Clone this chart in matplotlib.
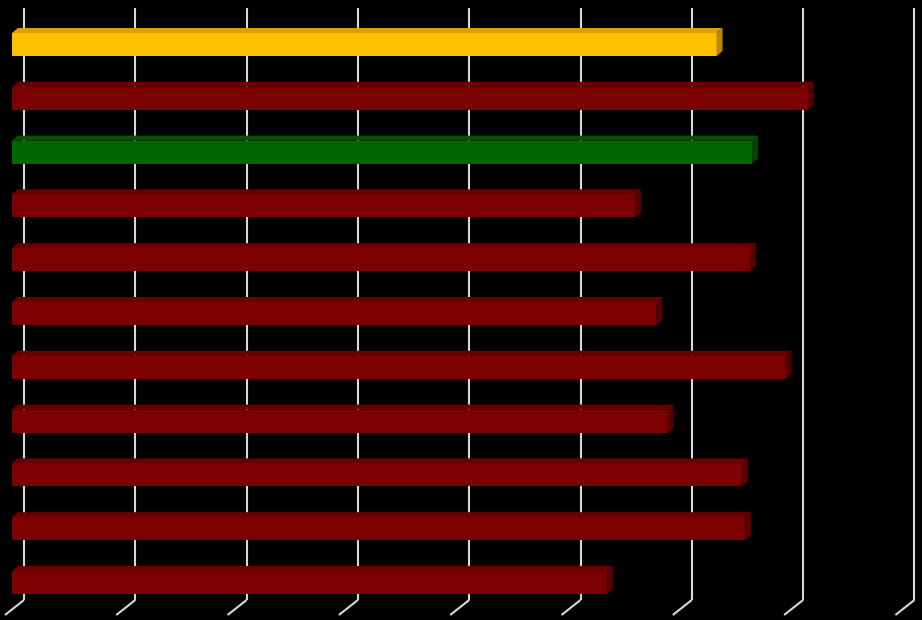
import matplotlib
matplotlib.use('Agg')
import matplotlib.pyplot as plt
from matplotlib.patches import Polygon

# bar values (one gridline = 10)
values = [63.3, 71.5, 66.5, 56.0, 66.3, 57.9, 69.5, 58.9, 65.6, 65.9, 53.5]
colors = ['yellow', 'red', 'green', 'red', 'red', 'red', 'red', 'red', 'red', 'red', 'red']
grid_ticks = [0, 10, 20, 30, 40, 50, 60, 70, 80]

# front / top / side shades
shades = {
    'yellow': ('#FFC000', '#D9A200', '#B88A00'),
    'red': ('#7C0000', '#680000', '#560000'),
    'green': ('#006600', '#005400', '#004400'),
}

W, H = 922, 620
fig = plt.figure(figsize=(W / 100, H / 100), dpi=100)
fig.patch.set_facecolor('black')
ax = fig.add_axes([0, 0, 1, 1])
ax.set_facecolor('black')
ax.axis('off')

# pixel layout of the plot
px_unit = 11.13      # pixels per value unit
x0_px = 12           # value 0 at bar front
y0_px = 44.5         # first bar centre
step_px = 53.8       # bar spacing
ax.set_xlim(-x0_px / px_unit, (W - x0_px) / px_unit)
ax.set_ylim((H - y0_px) / step_px, -y0_px / step_px)


def px_y(p):
    return (p - y0_px) / step_px


def dx(p):
    return p / px_unit


def dy(p):
    return p / step_px


# back wall gridlines with floor diagonals
for t in grid_ticks:
    xb = t + dx(12)
    ax.plot([xb, xb], [px_y(8), px_y(600)], color='#D8D8D8', lw=1.5, zorder=1,
            solid_capstyle='butt')
    ax.plot([xb, xb - dx(19)], [px_y(600), px_y(615)], color='#D8D8D8', lw=1.5,
            zorder=1, solid_capstyle='butt')

# bars
h = 23 / step_px
ddx, ddy = dx(6), dy(5)
ypos = list(range(len(values)))
front_cols = [shades[c][0] for c in colors]
ax.barh(ypos, values, height=h, left=0, color=front_cols, zorder=3)
for y, v, c in zip(ypos, values, colors):
    _, top_c, side_c = shades[c]
    yt, yb = y - h / 2, y + h / 2
    top = Polygon([(0, yt), (v, yt), (v + ddx, yt - ddy), (ddx, yt - ddy)],
                  closed=True, facecolor=top_c, edgecolor='none', zorder=3)
    side = Polygon([(v, yt), (v + ddx, yt - ddy), (v + ddx, yb - ddy), (v, yb)],
                   closed=True, facecolor=side_c, edgecolor='none', zorder=3)
    ax.add_patch(top)
    ax.add_patch(side)

fig.savefig('out.png', dpi=100, facecolor='black')
